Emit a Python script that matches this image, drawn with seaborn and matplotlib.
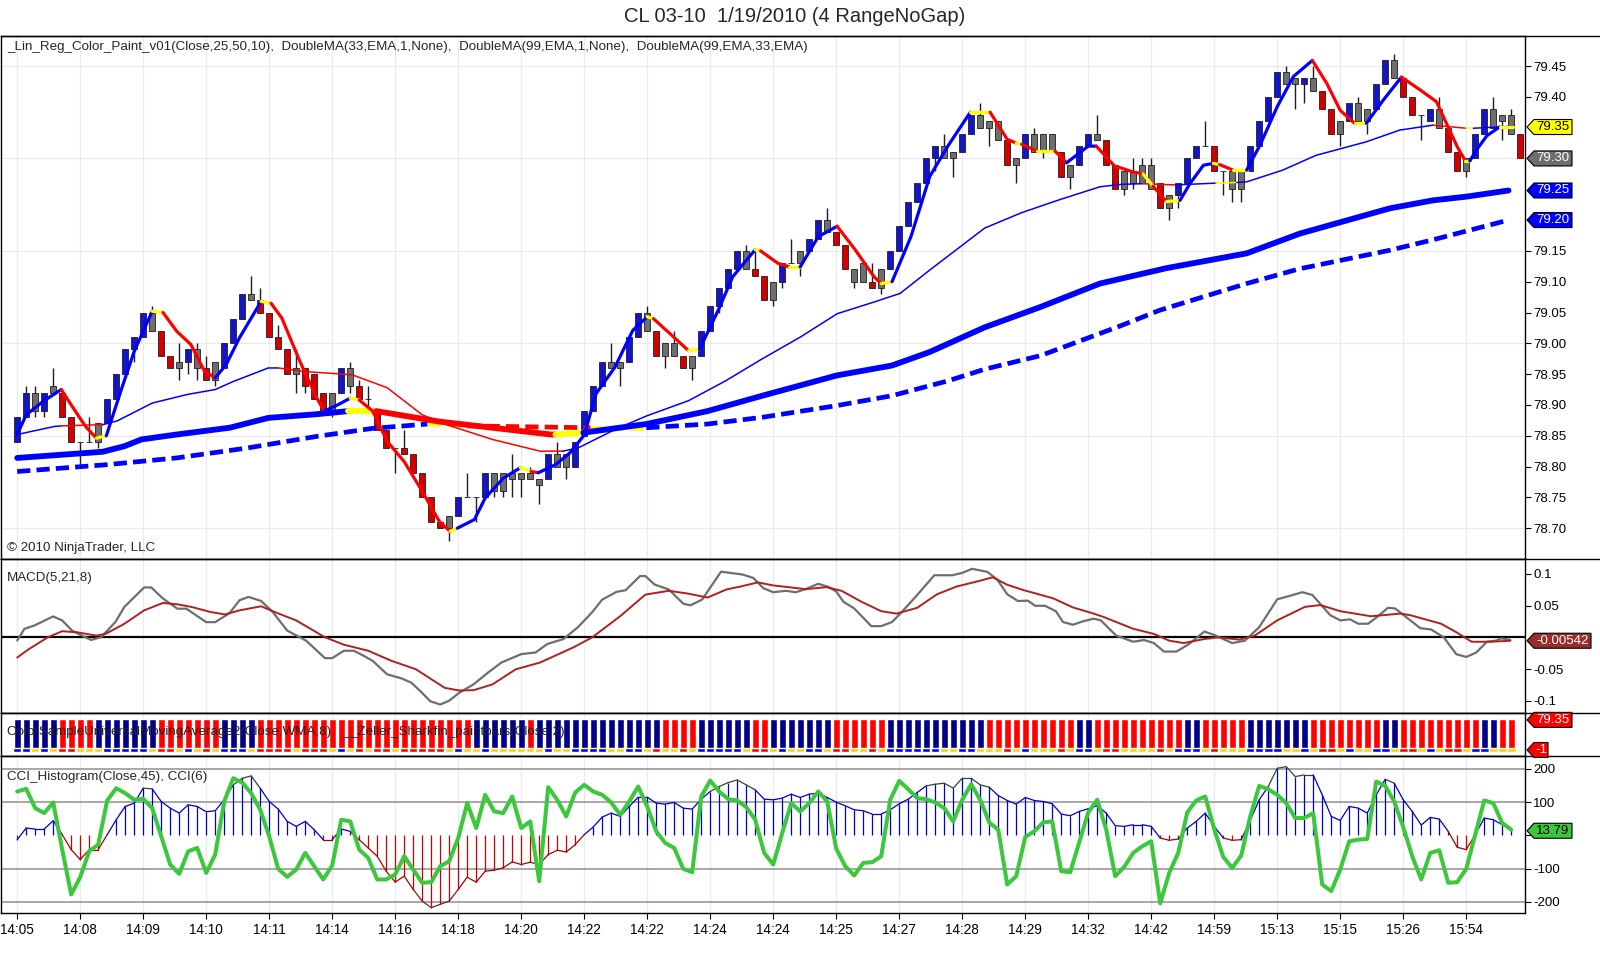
import matplotlib
matplotlib.use("Agg")
import matplotlib.pyplot as plt
from matplotlib.patches import Polygon
import numpy as np
import seaborn as sns

# --- CL 03-10 range bars ---
time_labels = ['14:05', '14:08', '14:09', '14:10', '14:11', '14:14', '14:16', '14:18',
               '14:20', '14:22', '14:22', '14:24', '14:24', '14:25', '14:27', '14:28',
               '14:29', '14:32', '14:42', '14:59', '15:13', '15:15', '15:26', '15:54']

opens = [
    78.84, 78.88, 78.92, 78.89, 78.92, 78.92, 78.88, 78.84, 78.84, 78.84,
    78.87, 78.91, 78.95, 78.99, 79.01, 79.05, 79.02, 78.98, 78.96, 78.97,
    78.99, 78.96, 78.94, 78.96, 79.00, 79.04, 79.08, 79.07, 79.05, 79.01,
    78.99, 78.95, 78.96, 78.95, 78.92, 78.89, 78.92, 78.96, 78.93, 78.91,
    78.89, 78.86, 78.83, 78.83, 78.82, 78.79, 78.75, 78.71, 78.70, 78.72,
    78.75, 78.75, 78.75, 78.76, 78.79, 78.78, 78.79, 78.78, 78.78, 78.78,
    78.80, 78.82, 78.80, 78.85, 78.89, 78.93, 78.97, 78.96, 78.97, 79.01,
    79.05, 79.02, 78.98, 79.00, 78.98, 78.96, 78.98, 79.02, 79.06, 79.09,
    79.12, 79.15, 79.12, 79.11, 79.07, 79.10, 79.13, 79.13, 79.15, 79.17,
    79.20, 79.18, 79.16, 79.12, 79.10, 79.10, 79.09, 79.12, 79.15, 79.19,
    79.23, 79.26, 79.30, 79.32, 79.30, 79.31, 79.34, 79.37, 79.35, 79.36,
    79.33, 79.29, 79.30, 79.34, 79.31, 79.34, 79.31, 79.27, 79.29, 79.32,
    79.34, 79.33, 79.29, 79.25, 79.28, 79.26, 79.29, 79.26, 79.22, 79.24,
    79.26, 79.30, 79.32, 79.32, 79.28, 79.28, 79.25, 79.28, 79.32, 79.36,
    79.40, 79.44, 79.42, 79.42, 79.43, 79.41, 79.38, 79.34, 79.36, 79.39,
    79.36, 79.38, 79.42, 79.46, 79.43, 79.40, 79.37, 79.36, 79.38, 79.35,
    79.31, 79.28, 79.30, 79.34, 79.38, 79.36, 79.37, 79.34]
closes = [
    78.88, 78.92, 78.89, 78.92, 78.93, 78.88, 78.84, 78.84, 78.84, 78.87,
    78.91, 78.95, 78.99, 79.01, 79.05, 79.02, 78.98, 78.96, 78.97, 78.99,
    78.96, 78.94, 78.97, 79.00, 79.04, 79.08, 79.07, 79.05, 79.01, 78.99,
    78.95, 78.96, 78.93, 78.91, 78.89, 78.92, 78.96, 78.93, 78.91, 78.91,
    78.86, 78.83, 78.83, 78.82, 78.79, 78.75, 78.71, 78.70, 78.72, 78.75,
    78.75, 78.75, 78.79, 78.79, 78.76, 78.79, 78.78, 78.79, 78.77, 78.82,
    78.82, 78.80, 78.84, 78.89, 78.93, 78.97, 78.96, 78.97, 79.01, 79.05,
    79.02, 78.98, 79.00, 78.98, 78.96, 78.98, 79.02, 79.06, 79.09, 79.12,
    79.15, 79.12, 79.11, 79.07, 79.10, 79.13, 79.13, 79.15, 79.17, 79.20,
    79.18, 79.16, 79.12, 79.10, 79.13, 79.09, 79.12, 79.15, 79.19, 79.23,
    79.26, 79.30, 79.32, 79.30, 79.31, 79.34, 79.37, 79.35, 79.36, 79.33,
    79.29, 79.30, 79.34, 79.31, 79.34, 79.31, 79.27, 79.29, 79.32, 79.34,
    79.33, 79.29, 79.25, 79.28, 79.26, 79.29, 79.25, 79.22, 79.24, 79.26,
    79.30, 79.32, 79.32, 79.28, 79.28, 79.25, 79.28, 79.32, 79.36, 79.40,
    79.44, 79.42, 79.43, 79.43, 79.41, 79.38, 79.34, 79.36, 79.39, 79.36,
    79.38, 79.42, 79.46, 79.43, 79.40, 79.37, 79.37, 79.38, 79.35, 79.31,
    79.28, 79.30, 79.34, 79.38, 79.35, 79.37, 79.34, 79.30]
highs = [
    78.88, 78.93, 78.93, 78.92, 78.96, 78.92, 78.88, 78.84, 78.88, 78.87,
    78.91, 78.95, 78.99, 79.01, 79.05, 79.06, 79.02, 78.98, 79.00, 78.99,
    79.00, 78.98, 78.97, 79.00, 79.04, 79.08, 79.11, 79.09, 79.05, 79.03,
    78.99, 78.99, 78.96, 78.95, 78.92, 78.92, 78.96, 78.97, 78.94, 78.93,
    78.89, 78.86, 78.83, 78.86, 78.82, 78.79, 78.75, 78.71, 78.72, 78.75,
    78.79, 78.75, 78.79, 78.79, 78.79, 78.82, 78.79, 78.80, 78.78, 78.82,
    78.84, 78.82, 78.84, 78.89, 78.93, 78.97, 79.00, 78.97, 79.01, 79.05,
    79.06, 79.02, 79.00, 79.02, 78.98, 78.98, 79.02, 79.06, 79.09, 79.12,
    79.15, 79.16, 79.15, 79.11, 79.10, 79.13, 79.17, 79.15, 79.17, 79.20,
    79.22, 79.18, 79.16, 79.12, 79.13, 79.13, 79.12, 79.15, 79.19, 79.23,
    79.26, 79.30, 79.32, 79.34, 79.31, 79.34, 79.37, 79.39, 79.36, 79.36,
    79.33, 79.30, 79.34, 79.35, 79.34, 79.34, 79.31, 79.29, 79.32, 79.34,
    79.37, 79.33, 79.29, 79.28, 79.30, 79.30, 79.30, 79.26, 79.24, 79.26,
    79.30, 79.32, 79.36, 79.32, 79.28, 79.28, 79.28, 79.32, 79.36, 79.40,
    79.44, 79.45, 79.43, 79.43, 79.45, 79.41, 79.38, 79.36, 79.39, 79.40,
    79.38, 79.42, 79.46, 79.47, 79.43, 79.40, 79.37, 79.38, 79.40, 79.35,
    79.31, 79.30, 79.34, 79.38, 79.40, 79.37, 79.38, 79.34]
lows = [
    78.84, 78.88, 78.88, 78.88, 78.92, 78.88, 78.84, 78.80, 78.84, 78.83,
    78.87, 78.91, 78.95, 78.97, 79.01, 79.02, 78.98, 78.96, 78.94, 78.95,
    78.94, 78.94, 78.93, 78.96, 79.00, 79.04, 79.07, 79.05, 79.01, 78.99,
    78.95, 78.92, 78.92, 78.91, 78.89, 78.88, 78.92, 78.92, 78.91, 78.89,
    78.86, 78.83, 78.79, 78.82, 78.79, 78.75, 78.71, 78.70, 78.68, 78.72,
    78.75, 78.71, 78.75, 78.75, 78.75, 78.75, 78.75, 78.78, 78.74, 78.78,
    78.80, 78.78, 78.80, 78.85, 78.89, 78.93, 78.96, 78.93, 78.97, 79.01,
    79.02, 78.98, 78.96, 78.98, 78.96, 78.94, 78.98, 79.02, 79.05, 79.09,
    79.12, 79.12, 79.11, 79.07, 79.06, 79.09, 79.13, 79.11, 79.15, 79.17,
    79.18, 79.16, 79.12, 79.09, 79.10, 79.09, 79.08, 79.12, 79.15, 79.19,
    79.23, 79.26, 79.28, 79.30, 79.27, 79.31, 79.34, 79.35, 79.32, 79.33,
    79.29, 79.26, 79.30, 79.31, 79.30, 79.31, 79.27, 79.25, 79.29, 79.32,
    79.33, 79.29, 79.25, 79.24, 79.25, 79.26, 79.25, 79.22, 79.20, 79.22,
    79.26, 79.30, 79.32, 79.28, 79.24, 79.23, 79.23, 79.28, 79.32, 79.36,
    79.40, 79.42, 79.38, 79.39, 79.41, 79.38, 79.34, 79.32, 79.36, 79.36,
    79.34, 79.38, 79.42, 79.43, 79.40, 79.37, 79.33, 79.36, 79.35, 79.31,
    79.28, 79.27, 79.30, 79.34, 79.35, 79.33, 79.34, 79.30]
# paint bar colour per candle: b = blue, r = red, g = gray
candle_colors = ("bbgbgrrggg" "bbbbbgrrgb" "grgbbbgrrr" "rgrrrgbgrg" "rrgrrrrrgb"
                 "ggbggggggb" "ggbbbbggbb" "grggrgbbbb" "bgrrgbggbb" "grrggrgbbb"
                 "bbbggbbggg" "rgbgggrgbb" "grrggggrgb" "bbgrgggbbb" "bggbgrrgbg"
                 "gbbgrrgbgr" "rgbbgggr")

# _Lin_Reg_Color_Paint line: knots (bar, price) + colour of the segment that starts there
linreg_bar = [0, 1, 2.9, 4.9, 6.0, 7.6, 8.8, 9.9, 11.5, 13.0, 15.0, 16.2, 17.7, 19.3, 20.8,
              22.0, 23.2, 24.7, 27.1, 28.2, 29.4, 31.4, 33.3, 34.1, 35.6, 37.0, 38.0, 39.5,
              41.1, 43.0, 45.0, 46.9, 48.1, 48.9, 50.8, 52.0, 54.0, 55.9, 57.1, 57.9, 59.8,
              61.4, 63.0, 64.3, 66.4, 68.4, 70.0, 70.7, 72.5, 74.6, 75.8, 77.9, 79.5, 82.0,
              82.6, 84.5, 85.8, 87.0, 89.0, 91.1, 93.1, 95.2, 96.0, 97.2, 99.3, 101.4, 103.4,
              105.9, 108.1, 110.0, 111.0, 111.6, 113.3, 115.3, 116.6, 119.0, 119.9, 121.9,
              124.0, 125.1, 126.2, 127.7, 129.2, 130.3, 131.8, 132.9, 133.6, 135.1, 136.6,
              138.1, 140.0, 141.8, 143.9, 145.5, 147.0, 148.6, 149.9, 151.8, 153.8, 155.9,
              157.7, 158.8, 160.0, 160.9, 161.4, 162.2, 163.3, 164.7, 166.2]
linreg_val = [78.852, 78.884, 78.906, 78.925, 78.900, 78.865, 78.846, 78.850, 78.922, 78.987,
              79.052, 79.050, 79.020, 78.998, 78.955, 78.944, 78.965, 79.009, 79.068, 79.065,
              79.041, 78.971, 78.911, 78.890, 78.900, 78.911, 78.908, 78.890, 78.841, 78.808,
              78.760, 78.711, 78.695, 78.700, 78.714, 78.749, 78.781, 78.798, 78.792, 78.790,
              78.803, 78.822, 78.851, 78.918, 78.961, 79.021, 79.043, 79.040, 79.016, 78.988,
              78.990, 79.054, 79.108, 79.152, 79.150, 79.130, 79.124, 79.124, 79.173, 79.190,
              79.152, 79.108, 79.097, 79.100, 79.173, 79.271, 79.320, 79.375, 79.375, 79.331,
              79.325, 79.323, 79.312, 79.312, 79.293, 79.320, 79.320, 79.288, 79.278, 79.275,
              79.255, 79.230, 79.232, 79.259, 79.289, 79.292, 79.290, 79.281, 79.281, 79.322,
              79.384, 79.433, 79.459, 79.422, 79.378, 79.357, 79.357, 79.395, 79.432, 79.411,
              79.392, 79.357, 79.319, 79.296, 79.296, 79.315, 79.337, 79.351, 79.351]
linreg_col = ("bbbrrrybbb" "yrrrrbbbyr" "rrrbbyrrrr" "rrybbbbyrb" "bbbbbbyrry"
              "bbbyrrybbr" "rrybbbbyrr" "yryrbbrrry" "rybbbyrybb" "bbrrrybbrr" "rrrybbbyy")

# DoubleMA(33,EMA,1,None) - thin line
ema33_bar = [0, 4.1, 4.9, 9.5, 11.1, 15.0, 18.9, 22.0, 24.0, 27.9, 29.0, 32.1, 37.2, 41.1,
             45.0, 47.7, 52.8, 58.1, 60.6, 62.3, 66.4, 69.9, 74.6, 78.7, 82.8, 87.0, 91.1,
             95.2, 98.1, 101.4, 107.5, 111.6, 115.8, 120.3, 122.7, 125.0, 128.7, 133.2,
             135.5, 136.6, 140.6, 144.3, 149.9, 153.6, 157.3, 161.0, 161.8, 165.7]
ema33_val = [78.852, 78.865, 78.866, 78.868, 78.874, 78.903, 78.917, 78.925, 78.938, 78.960,
             78.960, 78.954, 78.949, 78.928, 78.884, 78.868, 78.844, 78.825, 78.825, 78.830,
             78.860, 78.882, 78.907, 78.939, 78.975, 79.010, 79.048, 79.067, 79.081, 79.119,
             79.187, 79.212, 79.233, 79.254, 79.258, 79.259, 79.257, 79.260, 79.261, 79.262,
             79.281, 79.305, 79.327, 79.346, 79.354, 79.349, 79.349, 79.352]
ema33_col = "bbrbbbbbbb" "rrrrrrrrbb" "bbbbbbbbbb" "bbbbbrbybb" "bbbbrybb"

# DoubleMA(99,EMA,1,None) - thick solid
ema99_bar = [0, 9.5, 11.9, 13.8, 17.7, 23.6, 27.9, 33.3, 36.8, 39.9, 46.9, 59.3, 59.8, 62.9,
             69.9, 76.7, 82.8, 91.1, 97.2, 101.4, 107.5, 113.7, 120.3, 127.7, 136.6, 142.5,
             152.5, 157.3, 161.0, 165.7]
ema99_val = [78.814, 78.824, 78.833, 78.844, 78.852, 78.863, 78.879, 78.885, 78.890, 78.890,
             78.873, 78.852, 78.852, 78.855, 78.869, 78.890, 78.915, 78.948, 78.964, 78.986,
             79.026, 79.059, 79.097, 79.122, 79.146, 79.178, 79.219, 79.232, 79.238, 79.248]
ema99_col = "bbbbbbbbyrrrybbbbbbbbbbbbbbbbb"

# DoubleMA(99,EMA,33,EMA) - thick dashed
ema99s_bar = [0, 9.9, 17.7, 25.5, 33.3, 39.5, 45.6, 50.0, 59.3, 63.7, 69.9, 76.7, 82.8, 91.1,
              97.2, 103.4, 107.5, 113.7, 122.7, 127.0, 136.6, 142.5, 152.5, 157.3, 165.7]
ema99s_val = [78.792, 78.803, 78.814, 78.830, 78.849, 78.862, 78.869, 78.866, 78.864, 78.863,
              78.863, 78.869, 78.880, 78.899, 78.915, 78.939, 78.958, 78.980, 79.029, 79.054,
              79.097, 79.121, 79.151, 79.168, 79.200]
ema99s_col = "bbbbbbyrrybbbbbbbbbbbbbbb"

# MACD(5,21,8)
macd_bar = [0, 0.8, 1.9, 4.0, 5.0, 6.1, 7.2, 8.2, 9.3, 10.9, 11.9, 14.1, 14.9, 16.2, 17.8,
            18.8, 21.0, 22.0, 23.6, 24.7, 25.7, 27.1, 28.4, 30.0, 32.1, 34.2, 35.0, 36.3,
            37.4, 38.5, 39.5, 41.1, 42.7, 43.8, 44.8, 45.9, 47.0, 48.0, 49.1, 50.7, 52.3,
            53.8, 56.0, 57.6, 58.9, 60.7, 62.3, 63.9, 65.0, 66.6, 67.6, 69.2, 69.8, 70.8,
            72.4, 74.0, 74.8, 76.1, 78.2, 79.5, 80.6, 81.8, 82.9, 84.0, 85.4, 86.5, 87.6,
            89.0, 90.2, 91.0, 91.8, 93.0, 94.9, 96.0, 97.2, 98.3, 100.0, 101.9, 103.9, 105.0,
            106.1, 107.8, 108.9, 110.0, 111.2, 112.3, 113.1, 114.2, 115.4, 116.2, 117.3,
            118.4, 119.6, 120.4, 122.1, 124.0, 125.2, 126.3, 127.4, 128.8, 130.2, 131.9,
            133.0, 135.0, 136.4, 138.0, 140.0, 141.1, 142.8, 143.9, 145.9, 147.0, 148.1,
            149.0, 150.1, 151.2, 152.3, 153.1, 154.8, 155.9, 157.1, 158.5, 159.9, 161.0,
            162.1, 163.3, 164.3, 164.9, 165.9]
macd_val = [-0.005, 0.0133, 0.0186, 0.0329, 0.0266, 0.0106, 0.0027, -0.0042, 0.0, 0.0239,
            0.0478, 0.0786, 0.0786, 0.0611, 0.0451, 0.0451, 0.0239, 0.0239, 0.0382, 0.0584,
            0.0637, 0.0573, 0.0398, 0.0106, -0.0053, -0.0329, -0.0329, -0.0212, -0.0212,
            -0.0292, -0.0372, -0.0584, -0.0648, -0.0717, -0.0850, -0.1009, -0.106, -0.100,
            -0.0876, -0.0743, -0.0558, -0.0398, -0.0266, -0.0239, -0.0106, -0.0027, 0.0159,
            0.0398, 0.0595, 0.0717, 0.0743, 0.0966, 0.0966, 0.0834, 0.0754, 0.0531, 0.0504,
            0.0595, 0.1035, 0.1010, 0.0990, 0.0936, 0.0775, 0.0711, 0.0733, 0.0711, 0.0759,
            0.0845, 0.0791, 0.0722, 0.0561, 0.0455, 0.0176, 0.0176, 0.0241, 0.0401, 0.0668,
            0.0979, 0.0979, 0.1016, 0.1080, 0.1032, 0.0909, 0.0679, 0.0572, 0.0578, 0.0497,
            0.0497, 0.0412, 0.0241, 0.0198, 0.0251, 0.0294, 0.0267, 0.0027, -0.0070, -0.0043,
            -0.0091, -0.0225, -0.0225, -0.0107, 0.0091, 0.0037, -0.0091, -0.0053, 0.0160,
            0.0599, 0.0642, 0.0711, 0.0668, 0.0348, 0.0267, 0.0283, 0.0214, 0.0214, 0.0332,
            0.0465, 0.0455, 0.0267, 0.0144, 0.0123, 0.0, -0.0267, -0.0310, -0.0241, -0.0070,
            -0.0053, -0.0016, -0.0043]
signal_bar = [0, 1.3, 3.4, 5.0, 6.6, 8.8, 9.8, 11.9, 14.1, 16.2, 17.8, 19.4, 21.5, 23.1,
              24.7, 27.1, 28.9, 31.0, 34.2, 36.3, 39.0, 41.6, 44.3, 47.5, 49.1, 50.7, 52.8,
              55.4, 58.1, 61.8, 63.9, 67.1, 69.8, 72.4, 74.5, 76.7, 78.8, 80.4, 82.3, 84.0,
              86.0, 87.6, 89.9, 91.6, 93.8, 96.0, 97.7, 100.0, 102.2, 104.4, 106.7, 108.4,
              110.0, 111.7, 114.0, 115.1, 117.3, 119.6, 120.7, 124.0, 126.3, 128.0, 129.6,
              131.9, 133.5, 135.8, 137.5, 140.0, 143.1, 144.8, 147.0, 150.4, 153.7, 154.8,
              158.2, 159.9, 161.6, 163.8, 165.9]
signal_val = [-0.0319, -0.0186, 0.0, 0.0096, 0.0080, 0.0027, 0.0053, 0.0212, 0.0425, 0.0542,
              0.0520, 0.0478, 0.0398, 0.0361, 0.0425, 0.0489, 0.0382, 0.0266, 0.0, -0.0117,
              -0.0212, -0.0372, -0.0504, -0.0797, -0.0839, -0.0834, -0.0743, -0.0504, -0.0398,
              -0.0159, 0.0, 0.0345, 0.0674, 0.0733, 0.0690, 0.0627, 0.0754, 0.0802, 0.0866,
              0.0818, 0.0786, 0.0759, 0.0791, 0.0733, 0.0561, 0.0412, 0.0374, 0.0465, 0.0679,
              0.0802, 0.0882, 0.0947, 0.0829, 0.0749, 0.0658, 0.0615, 0.0471, 0.0374, 0.0321,
              0.0134, 0.0053, -0.0053, -0.0091, -0.0027, 0.0, -0.0037, 0.0027, 0.0267, 0.0481,
              0.0508, 0.0412, 0.0332, 0.0374, 0.0348, 0.0214, 0.0080, -0.0070, -0.0070, -0.0054]
macd_last = -0.00542

# ColorSampleUniversalMovingAverage2 colour per bar: N = navy, R = red
wma_colors = ("NNNNN" "RRRR" "NNNNNNN" "RRRRRRR" "NNNN" "RRRRRRRRRRRRRRRRRRRRRRRR"
              "NNNNNN" "R" "NNNNNNNNNNNNNN" "RRRR" "NNNNNN" "RR" "NNNNNNN" "RRRRRR"
              "NNNNNNNNNNN" "RRRRRRRRRR" "NN" "RRRRRRRRRR" "NN" "RRRRR" "NNNNNNN"
              "RRRRRRRR" "NN" "RRRRRRRRR" "NN" "RR")

# CCI_Histogram(Close,45) and CCI(6), one value per bar
cci45 = [-13, 22, 19, 19, 44, 2, -43, -73, -43, -43,
         2, 47, 87, 97, 142, 140, 102, 82, 67, 92,
         87, 71, 74, 107, 152, 172, 179, 142, 102, 79,
         42, 27, 42, 17, -13, -13, 19, 12, -13, -38,
         -63, -108, -141, -123, -163, -198, -218, -208, -198, -163,
         -126, -141, -108, -105, -98, -80, -88, -81, -88, -58,
         -45, -50, -28, 2, 25, 55, 67, 57, 87, 115,
         115, 97, 94, 99, 82, 79, 109, 132, 147, 159,
         167, 152, 137, 109, 107, 112, 124, 114, 124, 127,
         114, 100, 89, 77, 74, 64, 64, 77, 95, 109,
         129, 149, 154, 157, 142, 172, 172, 152, 145, 120,
         105, 94, 114, 105, 102, 95, 64, 59, 72, 80,
         89, 67, 29, 27, 32, 32, 27, -8, -15, -11,
         22, 42, 67, 27, -8, -15, -13, 45, 107, 147,
         202, 207, 177, 182, 182, 122, 57, 45, 87, 82,
         67, 122, 169, 157, 107, 72, 31, 54, 49, 12,
         -36, -43, 2, 52, 47, 32, 17]
cci6 = [132, 140, 82, 67, 99, -43, -178, -126, -48, -28,
        105, 142, 127, 107, 110, 82, -3, -88, -116, -48,
        -38, -113, -58, 102, 172, 159, 127, 77, -3, -101,
        -125, -103, -53, -93, -133, -91, 47, 42, -43, -68,
        -133, -133, -118, -63, -103, -143, -141, -93, -78, -8,
        97, 22, 122, 72, 67, 117, 22, 42, -138, 145,
        107, 57, 129, 152, 132, 122, 99, 62, 102, 147,
        87, 12, -23, -38, -101, -111, 117, 165, 132, 109,
        105, 85, 47, -53, -88, 7, 97, 72, 97, 132,
        102, -40, -93, -121, -83, -81, -63, 107, 164, 139,
        112, 109, 99, 82, 42, 107, 154, 107, 39, 17,
        -148, -123, -5, 12, 39, 42, -108, -111, -21, 69,
        107, 17, -123, -95, -53, -33, -18, -205, -113, -53,
        69, 105, 117, 19, -65, -98, -61, 57, 149, 139,
        122, 97, 52, 52, 67, -148, -168, -103, -18, -13,
        -11, 162, 149, 102, 25, -63, -133, -53, -45, -143,
        -141, -101, 2, 105, 97, 37, 17]
cci6_last = 13.79

# --- styling ---
sns.set_theme(style="white")
plt.rcParams['font.family'] = ['Liberation Sans', 'DejaVu Sans']
plt.rcParams['axes.unicode_minus'] = False

LINE = {'b': '#0000FF', 'r': '#FF0000', 'y': '#FFFF00'}
CANDLE = {'b': '#1414C8', 'r': '#D40000', 'g': '#6E6E6E'}
STRIP = {'b': '#0000FF', 'r': '#FF0000', 'g': '#FFD200'}
WMA = {'N': '#00008B', 'R': '#FF0000'}
GRID = '#EAEAEA'
TICK_FS = 9.5
LABEL_FS = 9.6

W, H = 1600, 965
X_LEFT, X_AXIS = 1, 1525
fig = plt.figure(figsize=(W / 100, H / 100), dpi=100)


def panel(top, bottom):
    return fig.add_axes([X_LEFT / W, 1 - bottom / H, (X_AXIS - X_LEFT) / W, (bottom - top) / H])


ax_p = panel(36, 559)
ax_m = panel(559, 713)
ax_c = panel(713, 756)
ax_i = panel(756, 913)

n = len(closes)
bars = np.arange(n)
grid_bars = np.arange(len(time_labels)) * 7
for ax in (ax_p, ax_m, ax_c, ax_i):
    ax.set_xlim(-1.8, 167.53)
    ax.set_facecolor('white')
    for s in ax.spines.values():
        s.set_color('black')
        s.set_linewidth(1.0)
    ax.yaxis.tick_right()
    ax.tick_params(axis='y', left=False, labelleft=False, right=True, labelright=True,
                   length=4, width=0.8, labelsize=TICK_FS, pad=2, colors='black', direction='out')
    ax.tick_params(axis='x', bottom=False, labelbottom=False)
    for g in grid_bars:
        ax.axvline(g, color=GRID, lw=0.9, zorder=0)


def colored_line(ax, xs, ys, cols, lw, dashes=None, z=4):
    # join consecutive segments of the same colour into one polyline
    start = 0
    for i in range(1, len(xs)):
        if i == len(xs) - 1 or cols[i] != cols[start]:
            kw = dict(color=LINE[cols[start]], lw=lw, zorder=z,
                      solid_capstyle='round', solid_joinstyle='round')
            if dashes:
                kw.update(dashes=dashes, dash_capstyle='butt')
            ax.plot(xs[start:i + 1], ys[start:i + 1], **kw)
            start = i


# --- price panel ---
ax_p.set_ylim(78.650, 79.4987)
for lvl in (78.70, 78.85, 79.00, 79.15, 79.30, 79.45):
    ax_p.axhline(lvl, color=GRID, lw=0.9, zorder=0)
price_ticks = [79.45, 79.40, 79.15, 79.10, 79.05, 79.00, 78.95, 78.90, 78.85, 78.80, 78.75, 78.70]
ax_p.set_yticks(price_ticks)
ax_p.set_yticklabels([f"{t:.2f}" for t in price_ticks])

o = np.array(opens)
c = np.array(closes)
ax_p.vlines(bars, lows, highs, color='#1E1E1E', lw=1.0, zorder=2)
ax_p.bar(bars, np.abs(c - o), bottom=np.minimum(o, c), width=0.64,
         color=[CANDLE[k] for k in candle_colors], edgecolor='#1E1E1E', linewidth=0.6, zorder=3)

colored_line(ax_p, ema99s_bar, ema99s_val, ema99s_col, lw=3.4, dashes=(2.8, 1.3), z=4)
colored_line(ax_p, ema99_bar, ema99_val, ema99_col, lw=4.2, z=4)
colored_line(ax_p, ema33_bar, ema33_val, ema33_col, lw=1.1, z=5)
colored_line(ax_p, linreg_bar, linreg_val, linreg_col, lw=2.3, z=6)

# --- MACD panel ---
ax_m.set_ylim(-0.1194, 0.1235)
ax_m.set_yticks([0.1, 0.05, -0.05, -0.1])
ax_m.set_yticklabels(['0.1', '0.05', '-0.05', '-0.1'])
ax_m.axhline(0, color='black', lw=1.6, zorder=2)
sns.lineplot(x=macd_bar, y=macd_val, ax=ax_m, color='#6E6E6E', linewidth=1.6, zorder=3)
sns.lineplot(x=signal_bar, y=signal_val, ax=ax_m, color='#B02020', linewidth=1.4, zorder=4)
ax_m.set_xlabel('')
ax_m.set_ylabel('')

# --- colour bars panel ---
ax_c.set_ylim(0, 1)
ax_c.tick_params(axis='y', right=False, labelright=False)
cb = np.arange(len(wma_colors))
ax_c.bar(cb, 0.77, bottom=0.09, width=0.78, color=[WMA[k] for k in wma_colors], zorder=2)
ax_c.bar(cb, 0.1, bottom=0.09, width=0.95,
         color=[STRIP[k] for k in candle_colors[:len(cb)]], zorder=3)

# --- CCI panel ---
ax_i.set_ylim(-234, 239)
for lvl in (200, 100, -100, -200):
    ax_i.axhline(lvl, color='#A0A0A0', lw=1.3, zorder=1)
ax_i.set_yticks([200, 100, 0, -100, -200])
ax_i.set_yticklabels(['200', '100', '', '-100', '-200'])
hb = np.arange(len(cci45))
hv = np.array(cci45)
ax_i.vlines(hb, 0, hv, colors=np.where(hv >= 0, '#0000CC', '#CC0000'), lw=0.9, zorder=2)
for i in range(len(hv) - 1):
    a, b2 = hv[i], hv[i + 1]
    if min(a, b2) >= 130:
        col = '#2E4A2E'
    elif max(a, b2) <= -130:
        col = '#7A1E1E'
    elif a + b2 >= 0:
        col = '#0000CC'
    else:
        col = '#AA0000'
    ax_i.plot([i, i + 1], [a, b2], color=col, lw=0.9, zorder=3)
sns.lineplot(x=np.arange(len(cci6)), y=cci6, ax=ax_i, color='#3CC83C', linewidth=2.9, zorder=4)
ax_i.set_xlabel('')
ax_i.set_ylabel('')
ax_i.set_xticks(grid_bars)
ax_i.set_xticklabels(time_labels)
ax_i.tick_params(axis='x', bottom=True, labelbottom=True, length=4, width=0.8,
                 labelsize=9.8, pad=3, colors='black', direction='out')

# --- overlay: titles, separators and value tags in pixel space ---
ov = fig.add_axes([0, 0, 1, 1])
ov.set_xlim(0, W)
ov.set_ylim(0, H)
ov.axis('off')
ov.patch.set_alpha(0)


def ypx(top):
    return H - top


for top in (36, 559, 713, 756):
    ov.plot([X_LEFT, W], [ypx(top), ypx(top)], color='black', lw=1.0)

ov.text(795, ypx(17), 'CL 03-10  1/19/2010 (4 RangeNoGap)', ha='center', va='center', fontsize=14.5)
ov.text(7, ypx(47), '_Lin_Reg_Color_Paint_v01(Close,25,50,10),  DoubleMA(33,EMA,1,None),  '
        'DoubleMA(99,EMA,1,None),  DoubleMA(99,EMA,33,EMA)', va='center', fontsize=LABEL_FS)
ov.text(7, ypx(548), '\u00a9 2010 NinjaTrader, LLC', va='center', fontsize=LABEL_FS)
ov.text(7, ypx(578), 'MACD(5,21,8)', va='center', fontsize=LABEL_FS)
ov.text(7, ypx(732), 'ColorSampleUniversalMovingAverage2(Close,WMA,8),  __Zeller_Sharkfin_paintbars(Close,2)',
        va='center', fontsize=LABEL_FS, color='#222222')
ov.text(7, ypx(777), 'CCI_Histogram(Close,45), CCI(6)', va='center', fontsize=LABEL_FS)


def tag(y, text, fc, tc, w=45, h=15):
    x0, tip = X_AXIS + 2, 7
    pts = [(x0, y), (x0 + tip, y + h / 2), (x0 + w, y + h / 2), (x0 + w, y - h / 2), (x0 + tip, y - h / 2)]
    ov.add_patch(Polygon(pts, closed=True, fc=fc, ec='black', lw=0.8, zorder=5))
    ov.text(x0 + tip + (w - tip) / 2, y, text, ha='center', va='center', color=tc,
            fontsize=TICK_FS, zorder=6)


def data_y(ax, v):
    return ax.transData.transform((0, v))[1]


tag(data_y(ax_p, linreg_val[-1]), f"{linreg_val[-1]:.2f}", '#FFFF00', 'black')
tag(data_y(ax_p, closes[-1]), f"{closes[-1]:.2f}", '#6E6E6E', 'white')
tag(data_y(ax_p, ema99_val[-1]), f"{ema99_val[-1]:.2f}", '#0000FF', 'white')
tag(data_y(ax_p, ema99s_val[-1]), f"{ema99s_val[-1]:.2f}", '#0000FF', 'white')
tag(data_y(ax_m, macd_last), f"{macd_last:.5f}", '#9B2C2C', 'white', w=64)
tag(ax_c.transAxes.transform((0, 0.84))[1], f"{linreg_val[-1]:.2f}", '#FF0000', 'white')
tag(ax_c.transAxes.transform((0, 0.14))[1], '-1', '#FF0000', 'white', w=21)
tag(data_y(ax_i, cci6_last), f"{cci6_last:.2f}", '#3CC83C', 'black')

fig.savefig('out.png', dpi=100, facecolor='white')
